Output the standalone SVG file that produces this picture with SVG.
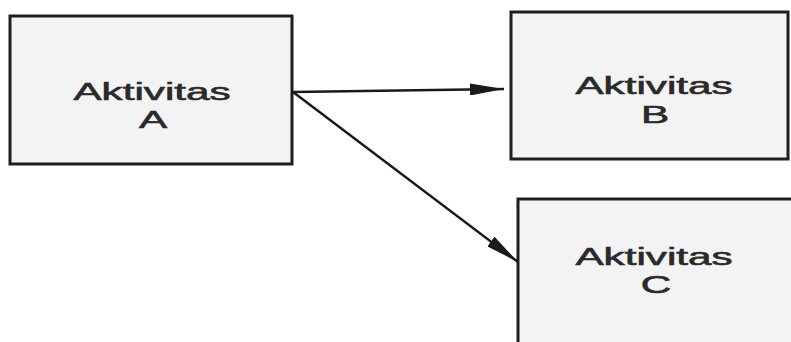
<svg xmlns="http://www.w3.org/2000/svg" width="791" height="342" viewBox="0 0 791 342">
  <style>
    .box { fill: #f3f3f3; stroke: #1e1e1e; stroke-width: 3; }
    .lbl { font-family: "Liberation Sans", Arial, sans-serif; font-size: 24px; fill: #2a2a2a; stroke: #2a2a2a; stroke-width: 0.6; text-anchor: middle; }
    .edge { stroke: #1a1a1a; stroke-width: 2.5; fill: none; }
  </style>
  <defs>
    <marker id="head" viewBox="0 0 34 12" refX="34" refY="6" markerWidth="34" markerHeight="12" markerUnits="userSpaceOnUse" orient="auto">
      <path d="M0,0 L34,6 L0,12 Z" fill="#1a1a1a"/>
    </marker>
  </defs>
  <rect width="791" height="342" fill="#ffffff"/>

  <g id="node-a">
    <rect class="box" x="10" y="16" width="282" height="148"/>
    <text class="lbl" transform="translate(152,100) scale(1.76,1)">Aktivitas</text>
    <text class="lbl" transform="translate(153,128) scale(1.76,1)">A</text>
  </g>

  <g id="node-b">
    <rect class="box" x="511" y="12" width="277" height="147"/>
    <text class="lbl" transform="translate(654,94) scale(1.76,1)">Aktivitas</text>
    <text class="lbl" transform="translate(655,123) scale(1.76,1)">B</text>
  </g>

  <g id="node-c">
    <rect class="box" x="518" y="199" width="290" height="160"/>
    <text class="lbl" transform="translate(654,265) scale(1.76,1)">Aktivitas</text>
    <text class="lbl" transform="translate(656,293) scale(1.76,1)">C</text>
  </g>

  <g id="connectors">
    <line class="edge" x1="293" y1="92" x2="504" y2="89" marker-end="url(#head)"/>
    <line class="edge" x1="293" y1="92" x2="518" y2="262" marker-end="url(#head)"/>
  </g>
</svg>
